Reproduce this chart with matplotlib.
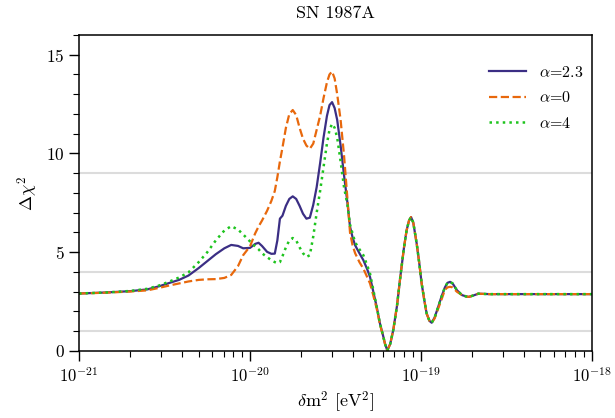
import numpy as np
import matplotlib
matplotlib.use('Agg')
import matplotlib.pyplot as plt
from matplotlib.ticker import MultipleLocator

plt.rcParams['font.family'] = 'cmr10'
plt.rcParams['mathtext.fontset'] = 'cm'
plt.rcParams['axes.formatter.use_mathtext'] = True

# log10(dm^2 / eV^2) grid
log_dm2 = [-21.00, -20.85, -20.70, -20.60, -20.53, -20.47, -20.415, -20.36, -20.30, -20.25,
           -20.20, -20.15, -20.11, -20.07, -20.04, -20.00, -19.97, -19.95, -19.93, -19.90,
           -19.875, -19.855, -19.84, -19.825, -19.81, -19.79, -19.77, -19.75, -19.73, -19.71,
           -19.69, -19.67, -19.65, -19.63, -19.61, -19.59, -19.57, -19.55, -19.535, -19.52,
           -19.505, -19.49, -19.47, -19.45, -19.43, -19.415, -19.40, -19.385, -19.36, -19.337,
           -19.315, -19.298, -19.28, -19.259, -19.24, -19.22, -19.21, -19.197, -19.18, -19.162,
           -19.14, -19.123, -19.10, -19.084, -19.07, -19.058, -19.045, -19.025, -19.01, -18.996,
           -18.98, -18.967, -18.95, -18.937, -18.92, -18.899, -18.88, -18.86, -18.845, -18.83,
           -18.815, -18.79, -18.76, -18.735, -18.72, -18.69, -18.665, -18.60, -18.40, -18.00]

chi2_a23 = [2.91, 2.96, 3.03, 3.12, 3.28, 3.45, 3.60, 3.82, 4.20, 4.55,
            4.90, 5.20, 5.37, 5.32, 5.20, 5.22, 5.42, 5.48, 5.32, 5.02,
            4.92, 4.93, 5.60, 6.70, 6.85, 7.35, 7.70, 7.83, 7.70, 7.35,
            6.95, 6.70, 6.75, 7.40, 8.30, 9.50, 10.80, 11.90, 12.45, 12.60,
            12.30, 11.70, 10.40, 8.90, 7.50, 6.30, 5.75, 5.35, 4.95, 4.60,
            4.15, 3.75, 3.05, 2.24, 1.40, 0.72, 0.35, 0.03, 0.35, 1.06,
            2.30, 3.59, 5.20, 6.11, 6.60, 6.78, 6.50, 5.44, 4.45, 3.42,
            2.55, 1.90, 1.52, 1.43, 1.70, 2.24, 2.75, 3.22, 3.45, 3.50,
            3.42, 3.08, 2.83, 2.76, 2.74, 2.82, 2.90, 2.88, 2.88, 2.88]

chi2_a0 = [2.91, 2.95, 3.01, 3.07, 3.20, 3.32, 3.42, 3.52, 3.60, 3.63,
           3.64, 3.70, 3.85, 4.30, 4.85, 5.30, 5.95, 6.30, 6.60, 7.10,
           7.60, 8.10, 8.80, 9.60, 10.30, 11.30, 12.00, 12.20, 11.95, 11.30,
           10.75, 10.40, 10.24, 10.50, 11.20, 11.90, 12.80, 13.60, 14.00, 14.15,
           13.80, 13.00, 11.70, 9.90, 7.70, 6.00, 5.35, 4.95, 4.50, 4.17,
           3.75, 3.42, 2.85, 2.15, 1.35, 0.70, 0.35, 0.03, 0.35, 1.06,
           2.30, 3.59, 5.20, 6.11, 6.60, 6.78, 6.50, 5.44, 4.45, 3.42,
           2.55, 1.90, 1.52, 1.43, 1.65, 2.15, 2.60, 3.10, 3.22, 3.25,
           3.22, 3.00, 2.83, 2.76, 2.74, 2.82, 2.90, 2.88, 2.88, 2.88]

chi2_a4 = [2.91, 2.96, 3.04, 3.15, 3.32, 3.52, 3.72, 3.98, 4.50, 5.00,
           5.60, 6.10, 6.32, 6.15, 5.90, 5.55, 5.30, 5.15, 4.95, 4.75,
           4.60, 4.50, 4.45, 4.50, 4.80, 5.25, 5.60, 5.72, 5.60, 5.25,
           4.95, 4.76, 4.85, 5.80, 7.00, 8.10, 9.30, 10.50, 11.20, 11.50,
           11.30, 10.80, 9.60, 8.30, 7.40, 6.40, 5.95, 5.50, 5.15, 4.85,
           4.35, 3.92, 3.15, 2.24, 1.40, 0.72, 0.35, 0.03, 0.35, 1.06,
           2.30, 3.59, 5.20, 6.11, 6.60, 6.78, 6.50, 5.44, 4.45, 3.42,
           2.55, 1.90, 1.52, 1.43, 1.70, 2.24, 2.75, 3.22, 3.45, 3.50,
           3.42, 3.08, 2.83, 2.76, 2.74, 2.82, 2.90, 2.88, 2.88, 2.88]

grid_levels = [1, 4, 9]

dm2 = 10.0 ** np.array(log_dm2)

fig = plt.figure(figsize=(6.15, 4.18), dpi=100)
ax = fig.add_axes([0.1285, 0.1603, 0.834, 0.756])

for lv in grid_levels:
    ax.axhline(lv, color='#dcdcdc', lw=1.5, zorder=0)

ax.plot(dm2, chi2_a23, color='#3b2e84', lw=1.6, label=r'$\alpha$=2.3')
ax.plot(dm2, chi2_a0, color='#e8680c', lw=1.6, ls='--', label=r'$\alpha$=0')
ax.plot(dm2, chi2_a4, color='#1ec41e', lw=1.8, ls=':', label=r'$\alpha$=4')

ax.set_xscale('log')
ax.set_xlim(1e-21, 1e-18)
ax.set_ylim(0, 16)
ax.yaxis.set_major_locator(MultipleLocator(5))
ax.yaxis.set_minor_locator(MultipleLocator(1))
ax.tick_params(which='major', direction='out', length=7, width=1, labelsize=12.5)
ax.tick_params(axis='x', which='major', labelsize=12)
ax.tick_params(which='minor', direction='out', length=4, width=0.8)
for sp in ax.spines.values():
    sp.set_linewidth(1.1)

ax.set_xlabel(r'$\delta$m$^2$ [eV$^2$]', fontsize=13)
ax.set_ylabel(r'$\Delta\chi^2$', fontsize=13)
ax.set_title('SN 1987A', fontsize=13, pad=12)
ax.legend(loc='upper right', frameon=False, fontsize=11.5, handlelength=2.3,
          borderaxespad=0, labelspacing=0.65, bbox_to_anchor=(0.995, 0.925))

fig.savefig('out.png', dpi=100)
